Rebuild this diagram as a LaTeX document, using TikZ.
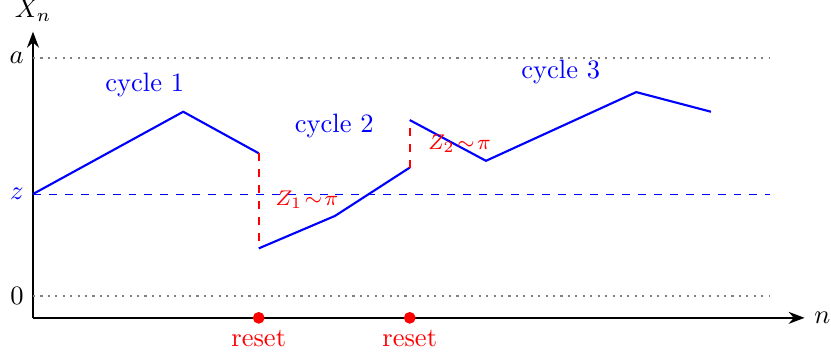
\documentclass[tikz,border=0pt]{standalone}
\usepackage{amssymb,amsmath}
\usepackage{tikz,xcolor}
\usetikzlibrary{arrows.meta,calc}

\begin{document}
\begin{tikzpicture}
\useasboundingbox (-0.437,-0.503) rectangle (10.57,4.21);

% axes
\coordinate (O) at (0,0);
\coordinate (xend) at (10.22,0);
\coordinate (yend) at (0,3.79);
\draw[thick,-{Stealth[length=6pt]}] (O) -- (xend) node[anchor=west]{$n$};
\draw[thick,-{Stealth[length=6pt]}] (O) -- (yend) node[anchor=south]{$X_n$};

% levels
\coordinate (a0) at (0,3.44); \coordinate (a1) at (9.76,3.44);
\coordinate (b0) at (0,0.29); \coordinate (b1) at (9.76,0.29);
\coordinate (z0) at (0,1.64); \coordinate (z1) at (9.76,1.64);
\draw[gray,dotted,thick] (a0) -- (a1); \node[anchor=east] at (a0) {$a$};
\draw[gray,dotted,thick] (b0) -- (b1); \node[anchor=east] at (b0) {$0$};
\draw[blue,dashed] (z0) -- (z1); \node[anchor=east,blue] at (z0) {$z$};

% the walk
\coordinate (P1) at (1.99,2.73);
\coordinate (P2) at (2.99,2.18);
\coordinate (P3) at (2.99,0.92);
\coordinate (P4) at (4.0,1.35);
\coordinate (P5) at (4.99,1.99);
\coordinate (P6) at (4.99,2.62);
\coordinate (P7) at (6.0,2.08);
\coordinate (P8) at (7.99,2.99);
\coordinate (P9) at (8.98,2.73);

\draw[blue,thick] (z0) -- (P1) -- (P2);
\draw[blue,thick] (P3) -- (P4) -- (P5);
\draw[blue,thick] (P6) -- (P7) -- (P8) -- (P9);

% jumps
\draw[red,thick,dashed] (P2) -- (P3);
\draw[red,thick,dashed] (P5) -- (P6);
\node[red] at (3.63,1.56) {\footnotesize{$Z_1\!\sim\!\pi$}};
\node[red] at (5.65,2.31) {\footnotesize{$Z_2\!\sim\!\pi$}};

% resets
\coordinate (r1) at (2.99,0); \coordinate (r2) at (4.99,0);
\filldraw[red] (r1) circle (2pt) node[anchor=north,yshift=-1pt]{reset};
\filldraw[red] (r2) circle (2pt) node[anchor=north,yshift=-1pt]{reset};

\node[blue] at (1.48,3.09) {cycle 1};
\node[blue] at (3.99,2.54) {cycle 2};
\node[blue] at (6.99,3.26) {cycle 3};

\end{tikzpicture}
\end{document}
